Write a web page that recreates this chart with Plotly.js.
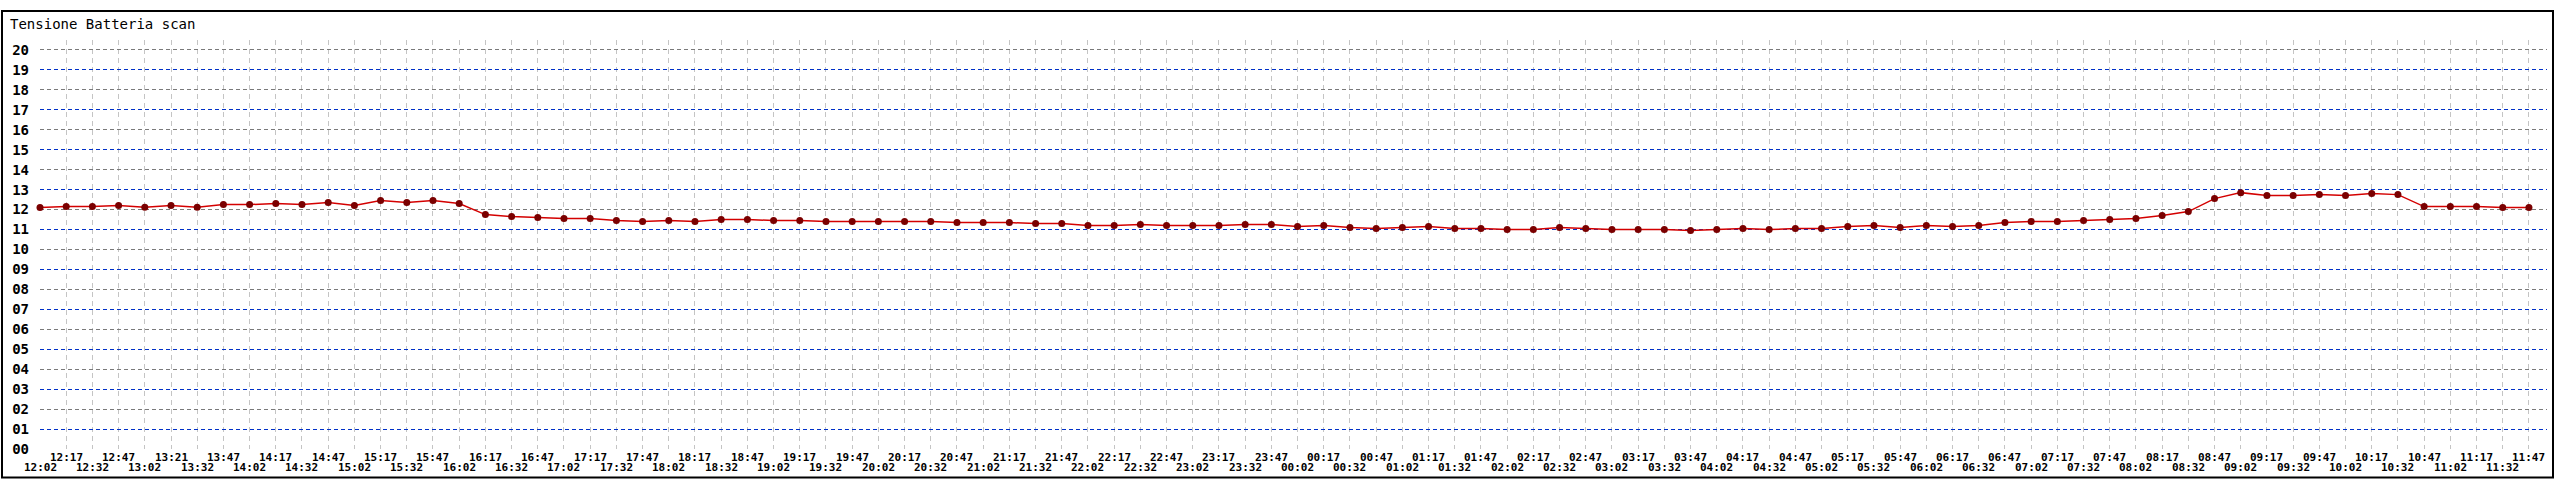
<!DOCTYPE html>
<html>
<head>
<meta charset="utf-8">
<script src="https://cdn.plot.ly/plotly-3.0.1.min.js"></script>
<style>
  html, body { margin: 0; padding: 0; background: #ffffff; overflow: hidden; }
  #chart { width: 2560px; height: 480px; }
</style>
</head>
<body>
<div id="chart"></div>
<script>
// ---- data ----
var timeLabels = [
  "12:02","12:17","12:32","12:47","13:02","13:21","13:32","13:47",
  "14:02","14:17","14:32","14:47","15:02","15:17","15:32","15:47",
  "16:02","16:17","16:32","16:47","17:02","17:17","17:32","17:47",
  "18:02","18:17","18:32","18:47","19:02","19:17","19:32","19:47",
  "20:02","20:17","20:32","20:47","21:02","21:17","21:32","21:47",
  "22:02","22:17","22:32","22:47","23:02","23:17","23:32","23:47",
  "00:02","00:17","00:32","00:47","01:02","01:17","01:32","01:47",
  "02:02","02:17","02:32","02:47","03:02","03:17","03:32","03:47",
  "04:02","04:17","04:32","04:47","05:02","05:17","05:32","05:47",
  "06:02","06:17","06:32","06:47","07:02","07:17","07:32","07:47",
  "08:02","08:17","08:32","08:47","09:02","09:17","09:32","09:47",
  "10:02","10:17","10:32","10:47","11:02","11:17","11:32","11:47"
];

var voltage = [
  12.10,12.15,12.15,12.20,12.12,12.20,12.12,12.25,
  12.25,12.30,12.25,12.35,12.20,12.45,12.35,12.45,
  12.30,11.75,11.65,11.60,11.55,11.55,11.45,11.40,
  11.45,11.40,11.50,11.50,11.45,11.45,11.40,11.40,
  11.40,11.40,11.40,11.35,11.35,11.35,11.30,11.30,
  11.20,11.20,11.25,11.20,11.20,11.20,11.25,11.25,
  11.15,11.20,11.10,11.05,11.10,11.15,11.05,11.05,
  11.00,11.00,11.10,11.05,11.00,11.00,11.00,10.95,
  11.00,11.05,11.00,11.05,11.05,11.15,11.20,11.10,
  11.20,11.15,11.20,11.35,11.40,11.40,11.45,11.50,
  11.55,11.70,11.90,12.55,12.85,12.70,12.70,12.75,
  12.70,12.80,12.75,12.15,12.15,12.15,12.10,12.10
];

var yTickValues = [0,1,2,3,4,5,6,7,8,9,10,11,12,13,14,15,16,17,18,19,20];
var yTickLabels = ["00","01","02","03","04","05","06","07","08","09","10",
                   "11","12","13","14","15","16","17","18","19","20"];
var evenGridValues = [0,2,4,6,8,10,12,14,16,18,20];
var oddGridValues  = [1,3,5,7,9,11,13,15,17,19];

var chartTitle = "Tensione Batteria scan";

// ---- layout helpers ----
var W = 2560, H = 480;
var ml = 40, mr = 13, mt = 40, mb = 31;
var pw = W - ml - mr, ph = H - mt - mb;
function px2paperX(p) { return (p - ml) / pw; }
function px2paperY(p) { return (H - mb - p) / ph; }

var mono = "DejaVu Sans Mono, Liberation Mono, monospace";
var labelFont = { family: mono, size: 11, color: "#000000", weight: "bold" };
var xRange = [0, 95.69];
var yRange = [0, 20.5];

// two staggered rows of time labels, positioned on the category axis
var labelAnnotations = timeLabels.map(function (l, i) {
  var upper = (i % 2 === 1);
  return {
    x: l, xref: "x",
    y: px2paperY(upper ? 457 : 467), yref: "paper",
    text: l, showarrow: false,
    xanchor: "center", yanchor: "middle",
    font: labelFont
  };
});

var gridHolder = function (ya, yv) {
  return {
    x: [timeLabels[0]], y: [yv], xaxis: "x", yaxis: ya,
    type: "scatter", mode: "markers",
    marker: { size: 1, opacity: 0 },
    hoverinfo: "skip", showlegend: false
  };
};

var trace = {
  x: timeLabels,
  y: voltage,
  type: "scatter",
  mode: "lines+markers",
  line: { color: "#d40000", width: 1.5 },
  marker: { color: "#7a0000", size: 7, symbol: "circle" },
  cliponaxis: false,
  hoverinfo: "x+y",
  xaxis: "x", yaxis: "y"
};

var traces = [
  gridHolder("y2", evenGridValues[0]),
  gridHolder("y3", oddGridValues[0]),
  trace
];

var layout = {
  width: W, height: H,
  autosize: false,
  margin: { l: ml, r: mr, t: mt, b: mb, pad: 0, autoexpand: false },
  paper_bgcolor: "#ffffff",
  plot_bgcolor: "#ffffff",
  showlegend: false,
  title: {
    text: chartTitle,
    automargin: false,
    font: { family: mono, size: 14, color: "#000000" },
    xref: "container", x: 10 / W, xanchor: "left",
    yref: "container", y: 1 - 24 / H, yanchor: "middle"
  },
  xaxis: {
    type: "category",
    automargin: false,
    range: xRange,
    tickmode: "array",
    tickvals: timeLabels,
    showticklabels: false,
    ticks: "",
    showgrid: true,
    gridcolor: "#c4c4c4",
    griddash: "5px,4px",
    gridwidth: 1,
    zeroline: false,
    showline: false
  },
  yaxis: {
    automargin: false,
    range: yRange,
    tickmode: "array",
    tickvals: yTickValues,
    ticktext: yTickLabels,
    ticks: "",
    showgrid: false,
    zeroline: false,
    showline: false,
    tickfont: { family: mono, size: 14, color: "#000000", weight: "bold" },
    ticklabelstandoff: 10
  },
  yaxis2: {
    automargin: false,
    overlaying: "y",
    anchor: "x",
    range: yRange,
    tickmode: "array",
    tickvals: evenGridValues,
    showticklabels: false,
    ticks: "",
    showgrid: true,
    gridcolor: "#7a7a7a",
    griddash: "4px,3px",
    gridwidth: 1,
    zeroline: false,
    showline: false
  },
  yaxis3: {
    automargin: false,
    overlaying: "y",
    anchor: "x",
    range: yRange,
    tickmode: "array",
    tickvals: oddGridValues,
    showticklabels: false,
    ticks: "",
    showgrid: true,
    gridcolor: "#0030c8",
    griddash: "4px,3px",
    gridwidth: 1,
    zeroline: false,
    showline: false
  },
  annotations: labelAnnotations,
  shapes: [{
    type: "rect",
    xref: "paper", yref: "paper",
    x0: px2paperX(2), x1: px2paperX(2553),
    y0: px2paperY(477.5), y1: px2paperY(11),
    line: { color: "#000000", width: 2 },
    fillcolor: "rgba(0,0,0,0)",
    layer: "above"
  }]
};

Plotly.newPlot("chart", traces, layout, { staticPlot: true, displayModeBar: false });
</script>
</body>
</html>
